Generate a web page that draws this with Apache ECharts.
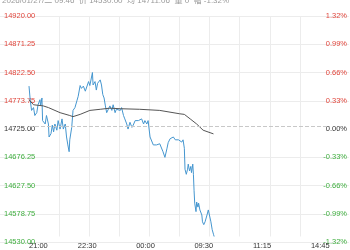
<!DOCTYPE html>
<html>
<head>
<meta charset="utf-8">
<script src="https://cdn.jsdelivr.net/npm/echarts@6/dist/echarts.min.js"></script>
<style>html,body{margin:0;padding:0;background:#fff}#c{width:350px;height:250px}</style>
</head>
<body>
<div id="c"></div>
<script>
var headerText = '2026/01/27/二 09:46  价 14530.00  均 14711.06  量 0  幅 -1.32%';
var basePrice = 14725;
var priceRange = 195;
var priceStep = 48.75;
var xTickLabels = ['21:00', '22:30', '00:00', '09:30', '11:15', '14:45'];

var priceTimes = ['21:00','21:02','21:04','21:07','21:09','21:12','21:14','21:17','21:18','21:20','21:21','21:25','21:27','21:30','21:31','21:34','21:36','21:38','21:40','21:43','21:45','21:48','21:51','21:53','21:56','21:58','22:00','22:02','22:03','22:06','22:08','22:11','22:14','22:16','22:19','22:21','22:24','22:27','22:29','22:32','22:34','22:38','22:39','22:42','22:44','22:46','22:48','22:50','22:52','22:54','22:56','22:58','23:00','23:03','23:05','23:08','23:10','23:13','23:15','23:18','23:21','23:23','23:26','23:28','23:31','23:33','23:36','23:39','23:41','23:44','23:46','23:49','23:51','23:54','23:57','23:59','00:02','00:04','00:07','00:10','00:12','00:15','00:17','00:22','00:27','00:30','00:33','00:35','00:38','00:40','00:43','00:46','00:48','00:51','00:53','00:56','00:58','01:00','09:01','09:03','09:05','09:06','09:08','09:10','09:11','09:13','09:14','09:15','09:16','09:18','09:19','09:21','09:22','09:24','09:27','09:28','09:30','09:32','09:35','09:37','09:40','09:41','09:43','09:45','09:46'];
var prices = [14796,14770,14753,14758,14744,14749,14763,14772,14761,14775,14735,14729,14744,14729,14706,14712,14727,14715,14729,14718,14735,14720,14738,14720,14729,14706,14692,14680,14701,14723,14753,14758,14770,14778,14797,14792,14796,14787,14784,14804,14797,14820,14798,14804,14789,14801,14804,14807,14798,14781,14775,14761,14749,14746,14761,14753,14763,14749,14755,14758,14753,14758,14744,14738,14729,14720,14732,14723,14727,14735,14738,14735,14732,14738,14729,14735,14729,14735,14706,14703,14692,14694,14692,14694,14680,14670,14685,14696,14703,14706,14706,14701,14701,14701,14703,14697,14701,14686,14649,14640,14649,14658,14646,14654,14643,14658,14640,14611,14589,14574,14591,14582,14589,14577,14568,14556,14551,14556,14568,14577,14574,14556,14542,14534,14530];

var avgTimes = ['21:00','21:07','21:22','21:30','21:48','22:03','22:08','22:19','22:34','22:50','23:05','23:21','23:51','00:22','00:53','01:00','09:09','09:19','09:29','09:45','09:46'];
var avgPrices = [14772,14763,14761,14758,14749,14744,14742,14746,14753,14755,14757,14756,14755,14753,14747,14746,14738,14729,14718,14711.5,14711.06];

function toMinute(t) {
  var p = t.split(':'), h = +p[0], m = +p[1];
  if (h >= 21) return (h - 21) * 60 + m;
  if (h <= 1) return (h + 3) * 60 + m;
  var hm = h * 100 + m;
  if (hm <= 1015) return 240 + (h - 9) * 60 + m;
  if (hm <= 1130) return 315 + (h - 10) * 60 + m - 30;
  return 375 + (h - 13) * 60 + m - 30;
}
var xTickValues = xTickLabels.map(toMinute);

function pairs(times, vals) {
  return times.map(function (t, i) { return [toMinute(t), vals[i] - basePrice]; });
}
function signColor(v) {
  if (Math.abs(v) < 1e-6) return '#333333';
  return v > 0 ? '#e0463c' : '#3fae3f';
}
var FONT = 'Liberation Sans, Arial, Noto Sans CJK SC, sans-serif';

var chart = echarts.init(document.getElementById('c'), null, {renderer: 'canvas'});
var gridColors = ['#ececec','#ececec','#ececec','#ececec','rgba(0,0,0,0)','#ececec','#ececec','#ececec','#ececec'];
chart.setOption({
  animation: false,
  backgroundColor: '#ffffff',
  title: {
    text: headerText, left: 2, top: -3, padding: 0,
    textStyle: {fontSize: 8, color: '#9a9a9a', fontWeight: 'normal', fontFamily: FONT}
  },
  grid: [
    {left: 0, right: 0, top: 16, bottom: 8},
    {left: 29, right: 20, top: 16, bottom: 8}
  ],
  xAxis: [
    {type: 'value', gridIndex: 0, show: false, min: 0, max: 1},
    {
      type: 'value', gridIndex: 1, min: 0, max: 465, interval: 46.5,
      axisLine: {show: false}, axisTick: {show: false},
      splitLine: {show: true, showMinLine: false, showMaxLine: false, lineStyle: {color: '#ececec', width: 1}},
      axisLabel: {
        customValues: xTickValues, margin: 6, fontSize: 7.5, color: '#333', fontFamily: FONT,
        alignMinLabel: 'left',
        formatter: function (v) { var i = xTickValues.indexOf(v); return i >= 0 ? xTickLabels[i] : ''; }
      }
    }
  ],
  yAxis: [
    {
      type: 'value', gridIndex: 0, position: 'left', min: -priceRange, max: priceRange, interval: priceStep,
      axisLine: {show: false}, axisTick: {show: false},
      splitLine: {show: true, lineStyle: {color: gridColors, width: 1}},
      axisLabel: {
        inside: true, margin: 4, fontSize: 7.5, fontFamily: FONT,
        formatter: function (v) { return (basePrice + v).toFixed(2); },
        color: function (v) { return signColor(+v); }
      }
    },
    {
      type: 'value', gridIndex: 0, position: 'right', min: -priceRange, max: priceRange, interval: priceStep,
      axisLine: {show: false}, axisTick: {show: false}, splitLine: {show: false},
      axisLabel: {
        inside: true, margin: 2, fontSize: 7.5, fontFamily: FONT,
        formatter: function (v) { return (v / basePrice * 100).toFixed(2) + '%'; },
        color: function (v) { return signColor(+v); }
      }
    },
    {type: 'value', gridIndex: 1, show: false, min: -priceRange, max: priceRange, interval: priceStep, splitLine: {show: false}}
  ],
  series: [
    {
      type: 'line', xAxisIndex: 1, yAxisIndex: 2, data: pairs(priceTimes, prices),
      symbol: 'none', lineStyle: {color: '#4596cf', width: 1}, z: 3,
      markLine: {
        silent: true, symbol: 'none', label: {show: false},
        lineStyle: {color: '#c8c8c8', type: 'dashed', width: 1},
        data: [{yAxis: 0}]
      }
    },
    {
      type: 'line', xAxisIndex: 1, yAxisIndex: 2, data: pairs(avgTimes, avgPrices),
      symbol: 'none', lineStyle: {color: '#555555', width: 1}, z: 4
    }
  ]
});
</script>
</body>
</html>
